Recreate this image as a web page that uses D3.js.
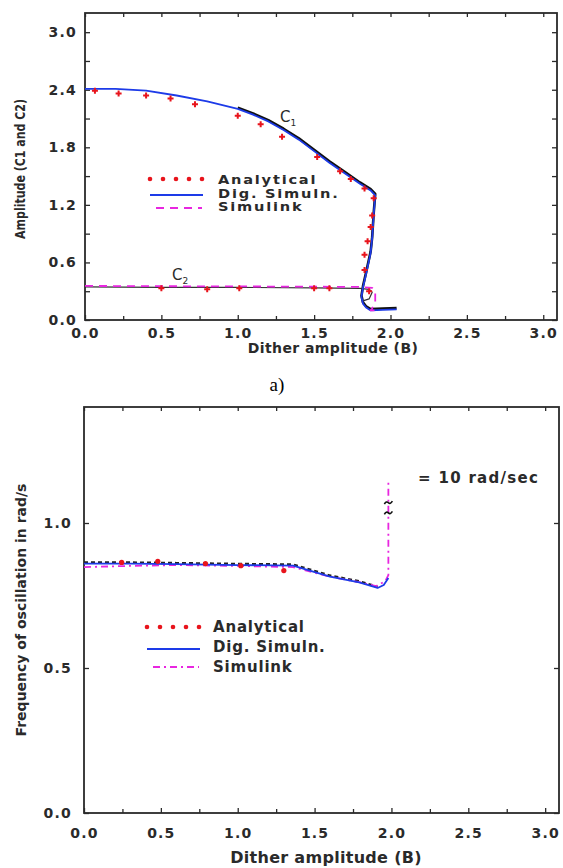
<!DOCTYPE html>
<html>
<head>
<meta charset="utf-8">
<script src="https://cdn.jsdelivr.net/npm/d3@7"></script>
<style>
  body { margin: 0; background: #fff; }
  svg { display: block; }
</style>
</head>
<body>
<div id="chart"></div>
<script>
// values
var xMajorTicks   = [0, 0.5, 1.0, 1.5, 2.0, 2.5, 3.0]
var xMinorTicks   = [0.25, 0.75, 1.25, 1.75, 2.25, 2.75]
var ampMajorTicks = [0, 0.6, 1.2, 1.8, 2.4, 3.0]
var ampMinorTicks = [0.3, 0.9, 1.5, 2.1, 2.7]
var freqTicks     = [0, 0.5, 1.0]

var legendNames = ['Analytical', 'Dig. Simuln.', 'Simulink']

// panel a) amplitude C1 / C2 vs dither amplitude B
var c1Analytical = [[0.065,2.39],[0.22,2.36],[0.40,2.34],[0.56,2.31],[0.72,2.25],[1.0,2.13],[1.15,2.04],
                    [1.29,1.91],[1.52,1.70],[1.67,1.55],[1.74,1.47],[1.83,1.37],[1.89,1.27],[1.88,1.09],
                    [1.87,0.97],[1.85,0.82],[1.83,0.68],[1.83,0.52]]
var c2Analytical = [[0.5,0.33],[0.8,0.32],[1.01,0.33],[1.5,0.33],[1.6,0.33],[1.86,0.30]]
var c1Dig = [[0,2.41],[0.2,2.41],[0.4,2.39],[0.6,2.34],[0.8,2.28],[1.0,2.20],[1.1,2.14],[1.2,2.07],[1.3,1.98],
             [1.4,1.88],[1.5,1.76],[1.6,1.64],[1.7,1.53],[1.8,1.42],[1.87,1.35],[1.90,1.30],[1.89,1.10],
             [1.88,0.85],[1.87,0.70],[1.84,0.48],[1.82,0.34],[1.81,0.24],[1.82,0.17],[1.84,0.13],[1.87,0.10],
             [1.95,0.105],[2.04,0.11]]
var c2Dig = [[0,0.345],[0.5,0.34],[1.0,0.34],[1.5,0.335],[1.8,0.33],[1.86,0.32],[1.88,0.29],[1.86,0.22],[1.82,0.20]]
var c2Simulink = [[0,0.355],[0.5,0.352],[1.0,0.35],[1.5,0.347],[1.8,0.345],[1.88,0.335],[1.90,0.30],[1.90,0.19],
                  [1.88,0.12],[1.87,0.10],[1.93,0.10]]

// panel b) frequency of oscillation vs dither amplitude B
var freqAnalytical = [[0.245,0.864],[0.48,0.868],[0.79,0.86],[1.02,0.853],[1.3,0.836]]
var freqDig = [[0,0.86],[0.3,0.86],[0.6,0.858],[1.0,0.855],[1.36,0.853],[1.6,0.815],[1.79,0.795],[1.91,0.776],
               [1.95,0.786],[1.98,0.81]]
var freqSimulink = [[0,0.848],[0.3,0.852],[0.6,0.855],[1.0,0.852],[1.36,0.848],[1.6,0.815],[1.8,0.795],
                    [1.9,0.782],[1.96,0.80],[1.98,0.82],[1.98,1.0],[1.98,1.15]]
var freqBreaks = [[1.98,1.07],[1.98,1.035]]

var red = '#e8141c', blue = '#1d3be8', magenta = '#e826e0', ink = '#2a2a2a'
var sans = 'DejaVu Sans, Verdana, sans-serif'

var svg = d3.select('#chart').append('svg').attr('width', 563).attr('height', 868)

function styleText(sel, size, spacing) {
  sel.attr('font-family', sans).attr('font-size', size).attr('font-weight', 'bold')
    .attr('letter-spacing', spacing).attr('fill', ink)
}

// the scanned figure is wider than tall, so horizontal text gets a small x stretch
function wideText(x, y, str, size, spacing, sx, anchor) {
  var t = svg.append('text').attr('transform', 'translate(' + x + ',' + y + ') scale(' + sx + ',1)')
    .attr('text-anchor', anchor || 'start').text(str)
  styleText(t, size, spacing)
  return t
}

function drawAxes(x, y, yMajor, yMinor, fmtY, padX, padY, labelSize) {
  var g = svg.append('g')
  var y0 = y.range()[0], y1 = y.range()[1], x0 = x.range()[0], x1 = x.range()[1]
  var f = d3.format('.1f')

  var bottom = g.append('g').attr('transform', 'translate(0,' + y0 + ')')
    .call(d3.axisBottom(x).tickValues(xMajorTicks).tickSize(-5).tickPadding(padX).tickFormat(f))
  g.append('g').attr('transform', 'translate(0,' + y0 + ')')
    .call(d3.axisBottom(x).tickValues(xMinorTicks).tickSize(-4).tickFormat(''))
  g.append('g').attr('transform', 'translate(0,' + y1 + ')')
    .call(d3.axisTop(x).tickValues(xMajorTicks.concat(xMinorTicks)).tickSize(-4).tickFormat(''))

  var left = g.append('g').attr('transform', 'translate(' + x0 + ',0)')
    .call(d3.axisLeft(y).tickValues(yMajor).tickSize(-5).tickPadding(padY).tickFormat(fmtY))
  g.append('g').attr('transform', 'translate(' + x1 + ',0)')
    .call(d3.axisRight(y).tickValues(yMajor.concat(yMinor)).tickSize(-5).tickFormat(''))
  if (yMinor.length) {
    g.append('g').attr('transform', 'translate(' + x0 + ',0)')
      .call(d3.axisLeft(y).tickValues(yMinor).tickSize(-5).tickFormat(''))
  }

  g.selectAll('.domain').remove()
  g.selectAll('.tick line').attr('stroke', ink).attr('stroke-width', 1.3)
  styleText(bottom.selectAll('text'), labelSize, 1.2)
  styleText(left.selectAll('text'), labelSize, 1.2)

  g.append('rect').attr('x', x0).attr('y', y1).attr('width', x1 - x0).attr('height', y0 - y1)
    .attr('fill', 'none').attr('stroke', ink).attr('stroke-width', 1.8)
}

function drawLine(data, x, y, color, width, dash, shift) {
  var line = d3.line().x(d => x(d[0])).y(d => y(d[1]))
  svg.append('path').datum(data)
    .attr('d', line)
    .attr('fill', 'none')
    .attr('stroke', color)
    .attr('stroke-width', width)
    .attr('stroke-dasharray', dash || null)
    .attr('stroke-linejoin', 'round')
    .attr('transform', shift ? 'translate(0,' + shift + ')' : null)
}

function drawLegend(lx, rows, textX, baselines, size, spacing, sx, simDash) {
  for (var i = 0; i < 5; ++i) {
    svg.append('circle').attr('cx', lx + i * 13).attr('cy', rows[0]).attr('r', 2.3).attr('fill', red)
  }
  svg.append('line').attr('x1', lx).attr('x2', lx + 53).attr('y1', rows[1]).attr('y2', rows[1])
    .attr('stroke', blue).attr('stroke-width', 2)
  svg.append('line').attr('x1', lx + 6).attr('x2', lx + 52).attr('y1', rows[2]).attr('y2', rows[2])
    .attr('stroke', magenta).attr('stroke-width', 2).attr('stroke-dasharray', simDash)
  legendNames.forEach(function(name, i) {
    wideText(textX, baselines[i], name, size, spacing, sx)
  })
}

// ---------------- panel a) ----------------
var xA = d3.scaleLinear().domain([0, 3.09]).range([85, 557])
var yA = d3.scaleLinear().domain([0, 3.2]).range([320, 13])

drawAxes(xA, yA, ampMajorTicks, ampMinorTicks, d3.format('.1f'), 8, 8, 14)

drawLine(c1Dig.filter(d => d[0] > 0.95), xA, yA, '#111', 2.6, null, -1.3)
drawLine(c2Dig, xA, yA, '#333', 1.2)
drawLine(c1Dig, xA, yA, blue, 1.8)
drawLine(c2Simulink, xA, yA, magenta, 1.8, '8,6')

svg.append('g').selectAll('path').data(c1Analytical.concat(c2Analytical)).join('path')
  .attr('transform', d => 'translate(' + xA(d[0]) + ',' + yA(d[1]) + ')')
  .attr('d', d3.symbol(d3.symbolCross, 20))
  .attr('fill', red)

var c1 = svg.append('text').attr('x', 280).attr('y', 122).attr('font-family', sans).attr('font-size', 15).attr('fill', ink)
c1.append('tspan').text('C')
c1.append('tspan').attr('font-size', 9).attr('dy', 4).text('1')
var c2 = svg.append('text').attr('x', 172).attr('y', 280).attr('font-family', sans).attr('font-size', 15).attr('fill', ink)
c2.append('tspan').text('C')
c2.append('tspan').attr('font-size', 9).attr('dy', 4).text('2')

drawLegend(150, [179, 195, 208], 218, [184, 197.5, 211], 11.5, 1.4, 1.27, '8,6')

styleText(svg.append('text').attr('x', 333).attr('y', 353).attr('text-anchor', 'middle')
  .text('Dither amplitude (B)'), 14, 0.4)
styleText(svg.append('text').attr('transform', 'translate(25,169) rotate(-90) scale(1,1.3)')
  .attr('text-anchor', 'middle').text('Amplitude (C1 and C2)'), 11, 0)

svg.append('text').attr('x', 277).attr('y', 391).attr('text-anchor', 'middle')
  .attr('font-family', 'Liberation Serif, Times New Roman, serif').attr('font-size', 19).attr('fill', '#000')
  .text('a)')

// ---------------- panel b) ----------------
var xB = d3.scaleLinear().domain([0, 3.09]).range([84, 559])
var yB = d3.scaleLinear().domain([0, 1.4]).range([813, 407])

drawAxes(xB, yB, freqTicks, [], d3.format('.1f'), 15, 12, 14)

drawLine(freqDig.filter(d => d[0] < 1.93), xB, yB, '#222', 2.6, '4,3', -1)
drawLine(freqSimulink, xB, yB, magenta, 1.8, '7,4,2,4')
drawLine(freqDig, xB, yB, blue, 1.8)

svg.append('g').selectAll('circle').data(freqAnalytical).join('circle')
  .attr('cx', d => xB(d[0])).attr('cy', d => yB(d[1])).attr('r', 2.6).attr('fill', red)

svg.append('g').selectAll('path').data(freqBreaks).join('path')
  .attr('transform', d => 'translate(' + xB(d[0]) + ',' + yB(d[1]) + ')')
  .attr('d', 'M-4,1.5 Q-2,-2 0,0 T4,-1.5')
  .attr('fill', 'none').attr('stroke', '#111').attr('stroke-width', 1.6)

wideText(418, 483, '= 10 rad/sec', 15, 1.3, 1)

drawLegend(147, [627, 649, 667], 213, [631.5, 651.5, 671.5], 15, 0.8, 1, '7,4,2,4')

styleText(svg.append('text').attr('x', 326).attr('y', 863).attr('text-anchor', 'middle')
  .text('Dither amplitude (B)'), 16, 0.3)
styleText(svg.append('text').attr('transform', 'translate(26,610) rotate(-90)').attr('text-anchor', 'middle')
  .text('Frequency of oscillation in rad/s'), 14, 0)
</script>
</body>
</html>
